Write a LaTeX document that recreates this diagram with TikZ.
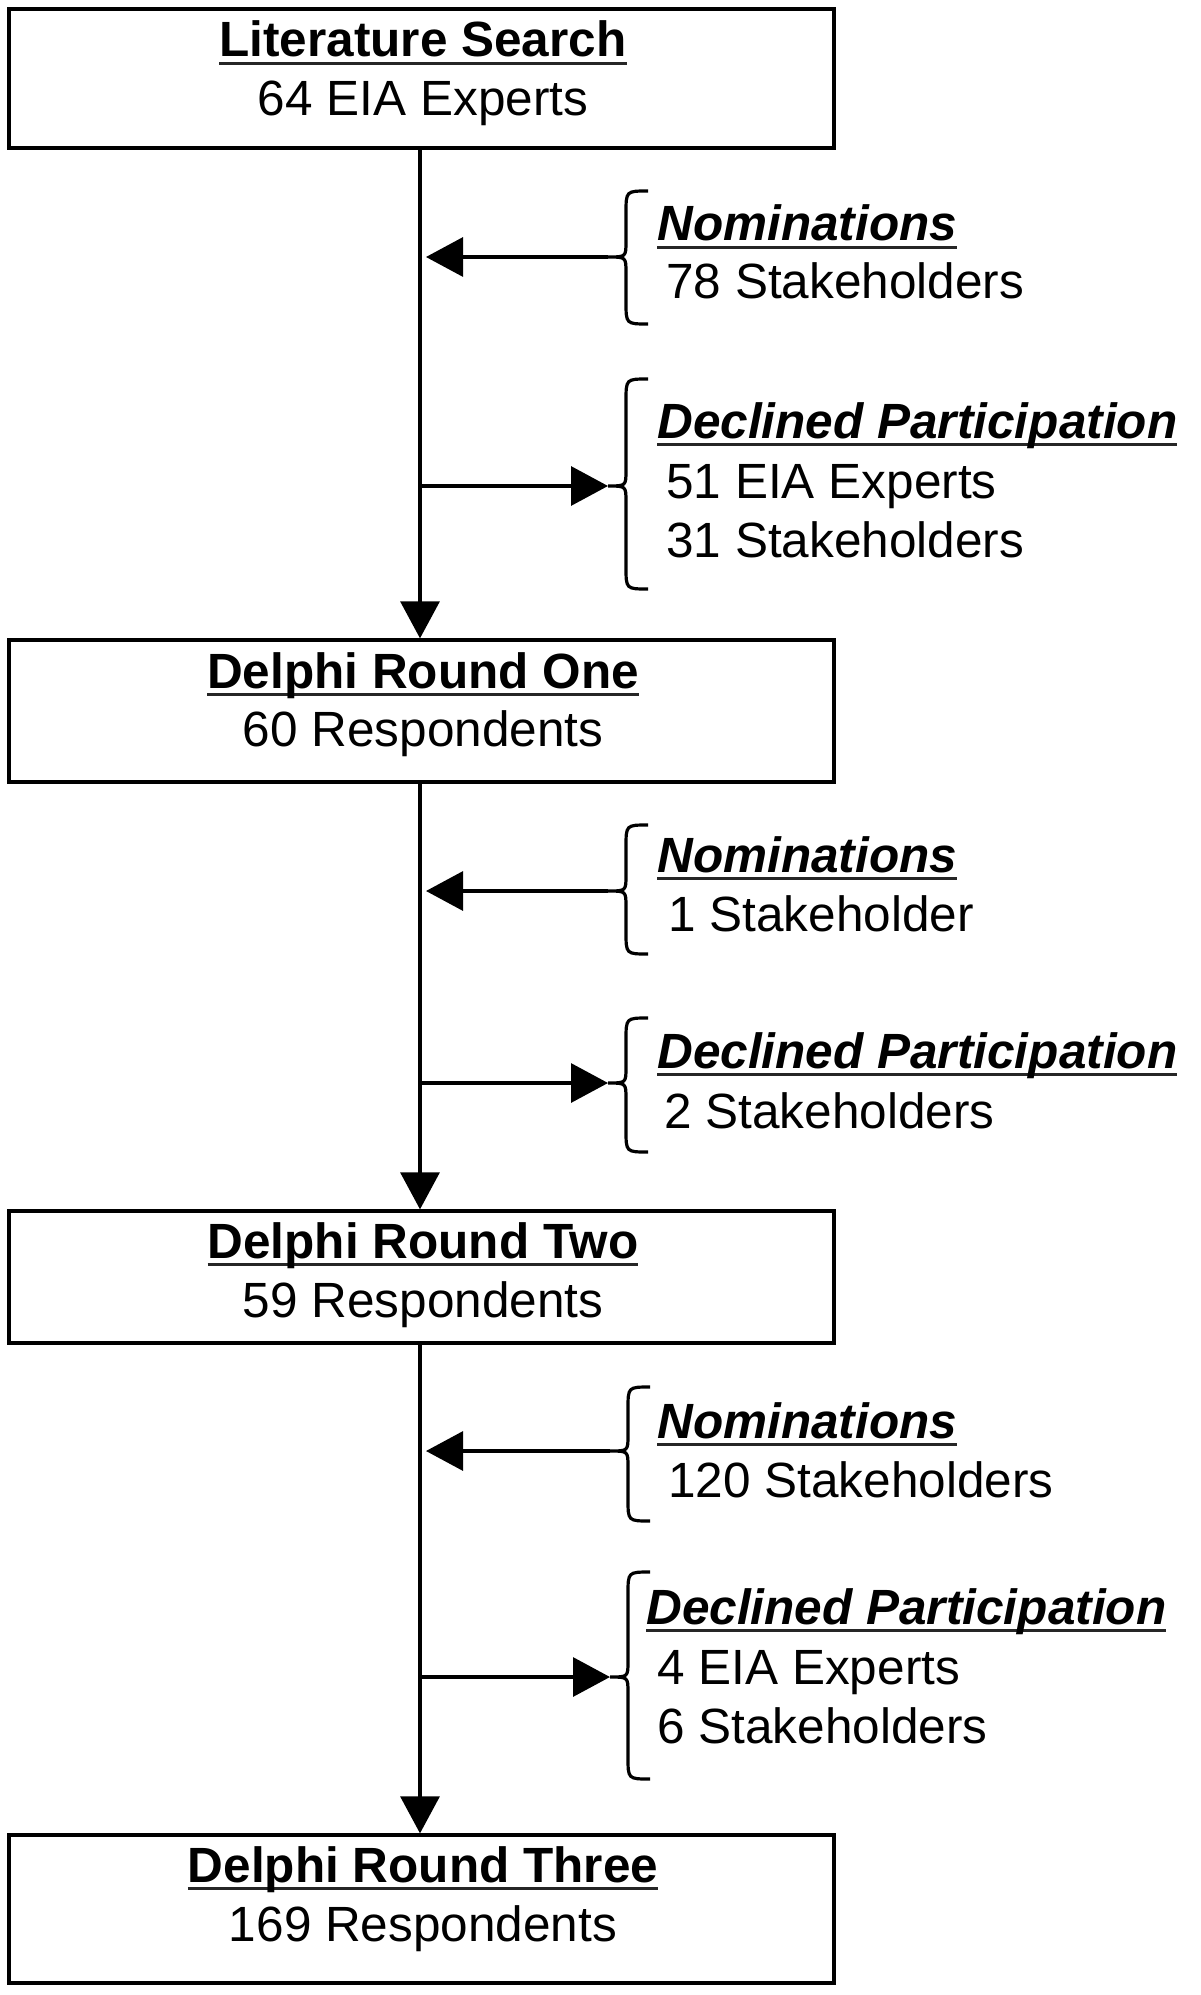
\documentclass[tikz,border=0pt]{standalone}
\usepackage{fontspec}
\setmainfont{Liberation Sans}
\usetikzlibrary{arrows.meta}
\newcommand\ulbox[1]{\setbox0\hbox{#1}\leavevmode\rlap{\textcolor{black!85}{\rule[-0.16em]{\wd0}{0.05em}}}\box0}
\newcommand\mybrace[4]{%
  \draw[bracel] (#1+22,#2) .. controls (#1,#2) .. (#1,#2+22) -- (#1,#3-16)
    .. controls (#1,#3) .. (#1-18,#3) .. controls (#1,#3) .. (#1,#3+16)
    -- (#1,#4-22) .. controls (#1,#4) .. (#1+22,#4);}
\tikzset{
  box/.style={draw, line width=1.65pt, inner sep=0pt, minimum width=412.5pt},
  ttl/.style={font=\fontsize{24.75}{29}\selectfont\bfseries, anchor=base, inner sep=0pt},
  txt/.style={font=\fontsize{24.75}{29}\selectfont, anchor=base, inner sep=0pt},
  hd/.style={font=\fontsize{24.75}{29}\selectfont\bfseries\itshape, anchor=base west, inner sep=0pt},
  sd/.style={font=\fontsize{24.75}{29}\selectfont, anchor=base west, inner sep=0pt},
  arr/.style={line width=1.6pt, -{Triangle[length=18.5pt,width=19.5pt]}},
  bracel/.style={line width=1.6pt}
}
\begin{document}
\begin{tikzpicture}[x=0.5pt,y=-0.5pt]
\fill[white] (0,0) rectangle (1200,1995);
\useasboundingbox (0,0) rectangle (1200,1995);
\coordinate (T) at (420,0);
% boxes
\node[box, minimum height=69.5pt] (b1) at (421.5,78.5) {};
\node[ttl] (b1t) at (423,57) {\ulbox{Literature Search}};
\node[txt] (b1n) at (423,116) {64 EIA Experts};
\node[box, minimum height=71pt] (b2) at (421.5,711) {};
\node[ttl] (b2t) at (423,688) {\ulbox{Delphi Round One}};
\node[txt] (b2n) at (423,746) {60 Respondents};
\node[box, minimum height=66pt] (b3) at (421.5,1277) {};
\node[ttl] (b3t) at (423,1258) {\ulbox{Delphi Round Two}};
\node[txt] (b3n) at (423,1317) {59 Respondents};
\node[box, minimum height=74pt] (b4) at (421.5,1909) {};
\node[ttl] (b4t) at (423,1882) {\ulbox{Delphi Round Three}};
\node[txt] (b4n) at (423,1941) {169 Respondents};
% trunk arrows
\draw[arr] (b1.south -| T) -- (b2.north -| T);
\draw[arr] (b2.south -| T) -- (b3.north -| T);
\draw[arr] (b3.south -| T) -- (b4.north -| T);
% group 1
\mybrace{626}{191}{257}{324}
\coordinate (n1tip) at (608,257);
\draw[arr] (n1tip) -- ([xshift=3pt]n1tip -| T);
\node[hd] (n1h) at (657,241) {\ulbox{Nominations}};
\node[sd] (n1a) at (666,299) {78 Stakeholders};
\mybrace{626}{379}{486}{589}
\coordinate (d1tip) at (608,486);
\draw[arr] (d1tip -| T) -- (d1tip);
\node[hd] (d1h) at (657,438) {\ulbox{Declined Participation}};
\node[sd] (d1a) at (666,498) {51 EIA Experts};
\node[sd] (d1b) at (666,557) {31 Stakeholders};
% group 2
\mybrace{626}{825}{891}{954}
\coordinate (n2tip) at (608,891);
\draw[arr] (n2tip) -- ([xshift=3pt]n2tip -| T);
\node[hd] (n2h) at (657,872) {\ulbox{Nominations}};
\node[sd] (n2a) at (668,931) {1 Stakeholder};
\mybrace{626}{1018}{1083}{1152}
\coordinate (d2tip) at (608,1083);
\draw[arr] (d2tip -| T) -- (d2tip);
\node[hd] (d2h) at (657,1068) {\ulbox{Declined Participation}};
\node[sd] (d2a) at (664,1128) {2 Stakeholders};
% group 3
\mybrace{628}{1387}{1451}{1521}
\coordinate (n3tip) at (610,1451);
\draw[arr] (n3tip) -- ([xshift=3pt]n3tip -| T);
\node[hd] (n3h) at (657,1438) {\ulbox{Nominations}};
\node[sd] (n3a) at (668,1497) {120 Stakeholders};
\mybrace{628}{1572}{1677}{1779}
\coordinate (d3tip) at (610,1677);
\draw[arr] (d3tip -| T) -- (d3tip);
\node[hd] (d3h) at (646,1624) {\ulbox{Declined Participation}};
\node[sd] (d3a) at (657,1684) {4 EIA Experts};
\node[sd] (d3b) at (657,1743) {6 Stakeholders};
\end{tikzpicture}
\end{document}
